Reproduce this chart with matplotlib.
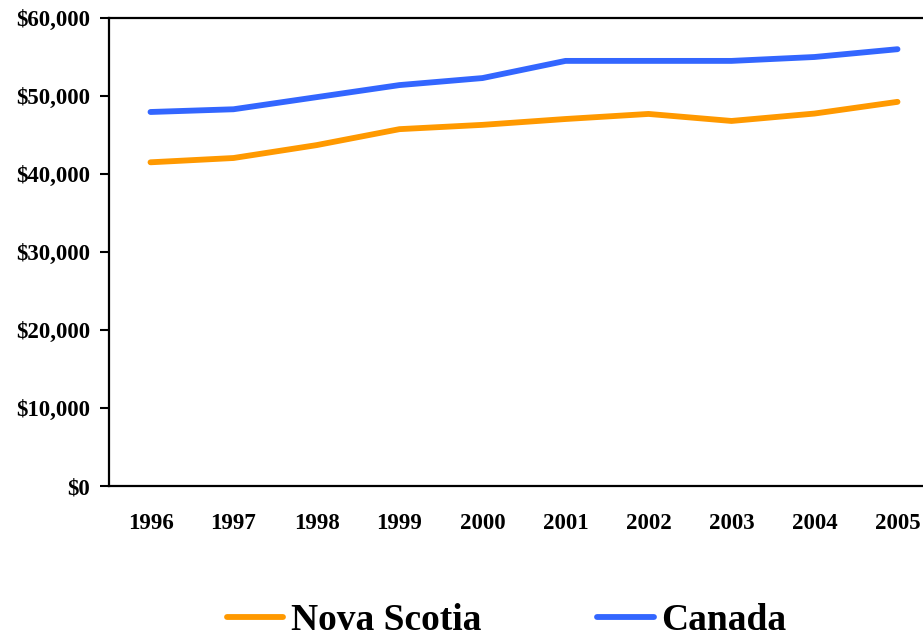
import matplotlib
matplotlib.use("Agg")
import matplotlib.pyplot as plt
from matplotlib.ticker import FuncFormatter

years = ["1996", "1997", "1998", "1999", "2000", "2001", "2002", "2003", "2004", "2005"]
nova_scotia = [41500, 42050, 43700, 45750, 46300, 47050, 47700, 46800, 47750, 49250]
canada = [47950, 48300, 49850, 51400, 52300, 54500, 54500, 54500, 55000, 56000]
y_ticks = [0, 10000, 20000, 30000, 40000, 50000, 60000]

plt.rcParams['font.family'] = ['Liberation Serif', 'DejaVu Serif']
plt.rcParams['font.weight'] = 'bold'

fig = plt.figure(figsize=(9.23, 6.38), dpi=100)
W, H = 923, 638
left, right, top, bottom = 109, 923, 18, 486
ax = fig.add_axes([left / W, 1 - bottom / H, (right - left) / W, (bottom - top) / H])

x = list(range(len(years)))
ax.plot(x, nova_scotia, color="#FF9900", lw=4.2, solid_capstyle="round", label="Nova Scotia")
ax.plot(x, canada, color="#3366FF", lw=4.2, solid_capstyle="round", label="Canada")

slot = 83.0
ax.set_xlim(-0.5, -0.5 + (right - left) / slot)
ax.set_ylim(0, 60000)
ax.set_xticks(x)
ax.set_xticklabels(years, fontsize=16.5, fontweight="bold")
ax.set_yticks(y_ticks)
ax.yaxis.set_major_formatter(FuncFormatter(lambda v, p: "${:,.0f}".format(v)))
for lab in ax.get_yticklabels():
    lab.set_fontweight("bold")
ax.tick_params(axis="y", labelsize=16.5, length=6.5, width=1.5, pad=7)
ax.tick_params(axis="x", length=0, pad=19.5)

for s in ["left", "bottom", "top"]:
    ax.spines[s].set_linewidth(1.6)
ax.spines["right"].set_visible(False)

leg = fig.legend(loc="center", bbox_to_anchor=(0.549, 0.027), ncol=2, frameon=False,
                 prop={"family": "Liberation Serif", "weight": "bold", "size": 27},
                 handlelength=1.5, handletextpad=0.2, columnspacing=3.1,
                 borderpad=0, borderaxespad=0)

fig.savefig("out.png", dpi=100)
